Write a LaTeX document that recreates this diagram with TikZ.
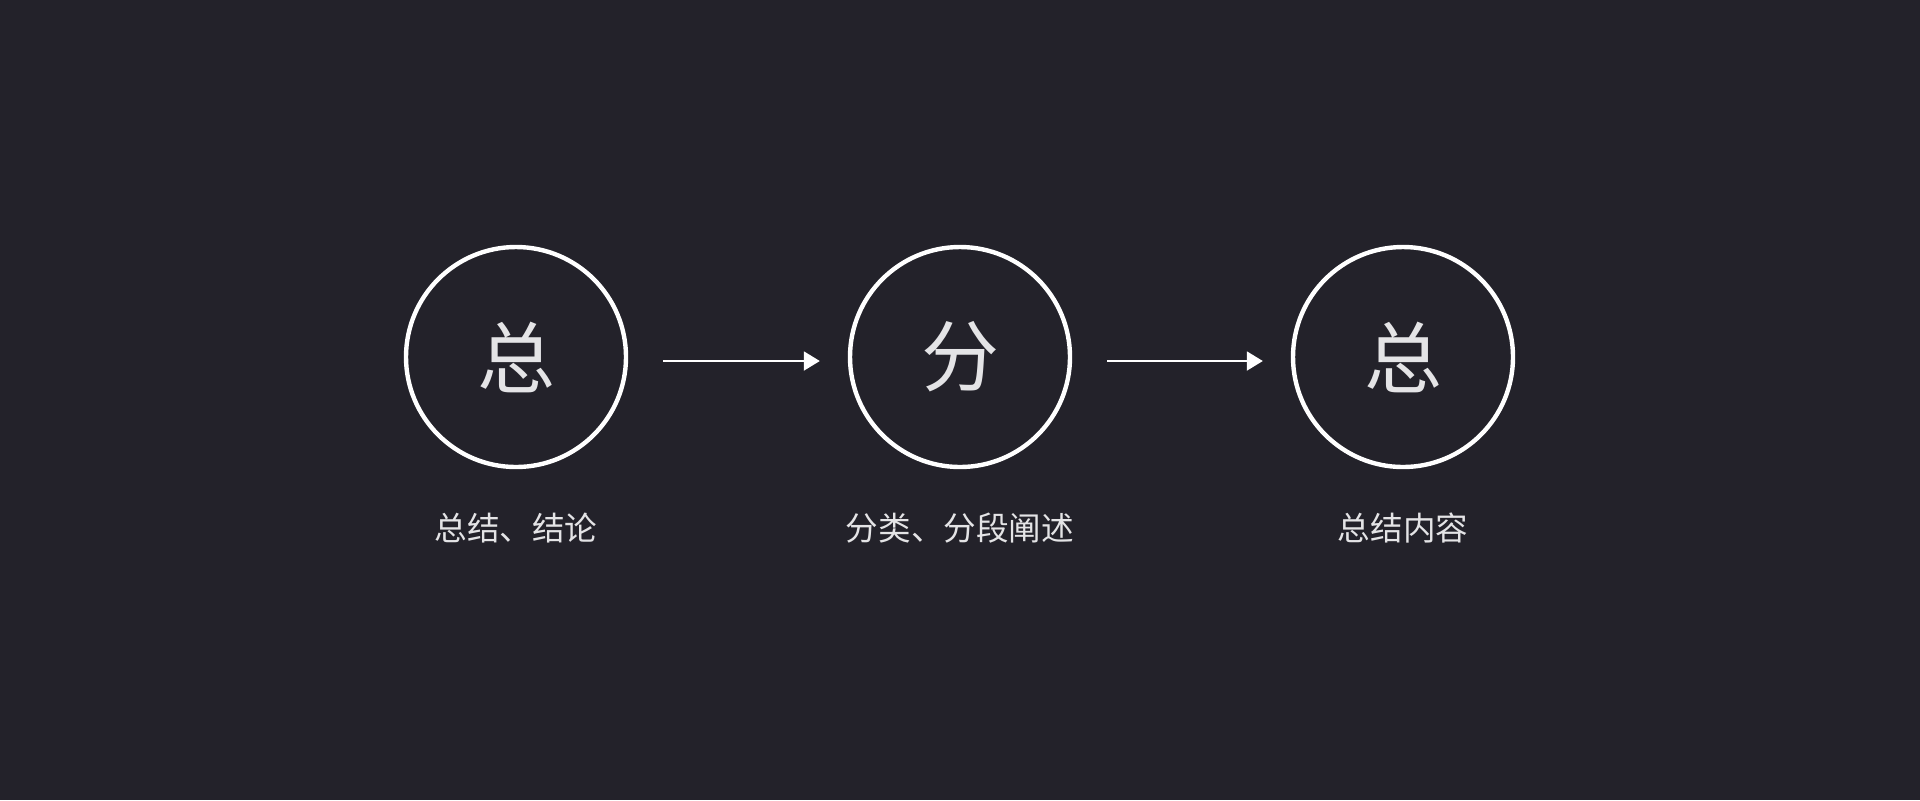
\documentclass[tikz,border=0pt]{standalone}
\usepackage{fontspec}
\newfontfamily\cjk{Noto Sans CJK SC}
\usetikzlibrary{arrows.meta}
\definecolor{bgdark}{RGB}{35,34,42}
\definecolor{textgray}{RGB}{228,228,230}

\begin{document}
\begin{tikzpicture}[x=0.5pt, y=-0.5pt]
    \def\diam {110pt}
    \def\ypos {357}
    \tikzset{
        ring/.style={circle, draw=white, line width=2.2pt, minimum size=\diam, inner sep=0pt, text=textgray, font=\cjk\fontsize{39}{42}\selectfont},
        caption/.style={text=textgray, inner sep=0pt, font=\cjk\fontsize{16.3}{19}\selectfont},
        flow/.style={draw=white, line width=1pt, -{Triangle[length=8pt, width=9.5pt]}}
    }
    \fill[bgdark] (0,0) rectangle (1920,800);
    \foreach \name/\x/\head/\text in {zongA/516/总/总结、结论, fen/960/分/分类、分段阐述, zongB/1403/总/总结内容}
    {
        \node[ring] (\name) at (\x,\ypos) {\raisebox{1pt}{\head}};
        \node[caption] (\name-cap) at (\x,528) {\text};
    }
    \draw[flow] ([xshift=17.5pt, yshift=-2pt]zongA.east) -- ([xshift=-14pt, yshift=-2pt]fen.west);
    \draw[flow] ([xshift=17.5pt, yshift=-2pt]fen.east) -- ([xshift=-14pt, yshift=-2pt]zongB.west);
\end{tikzpicture}
\end{document}
